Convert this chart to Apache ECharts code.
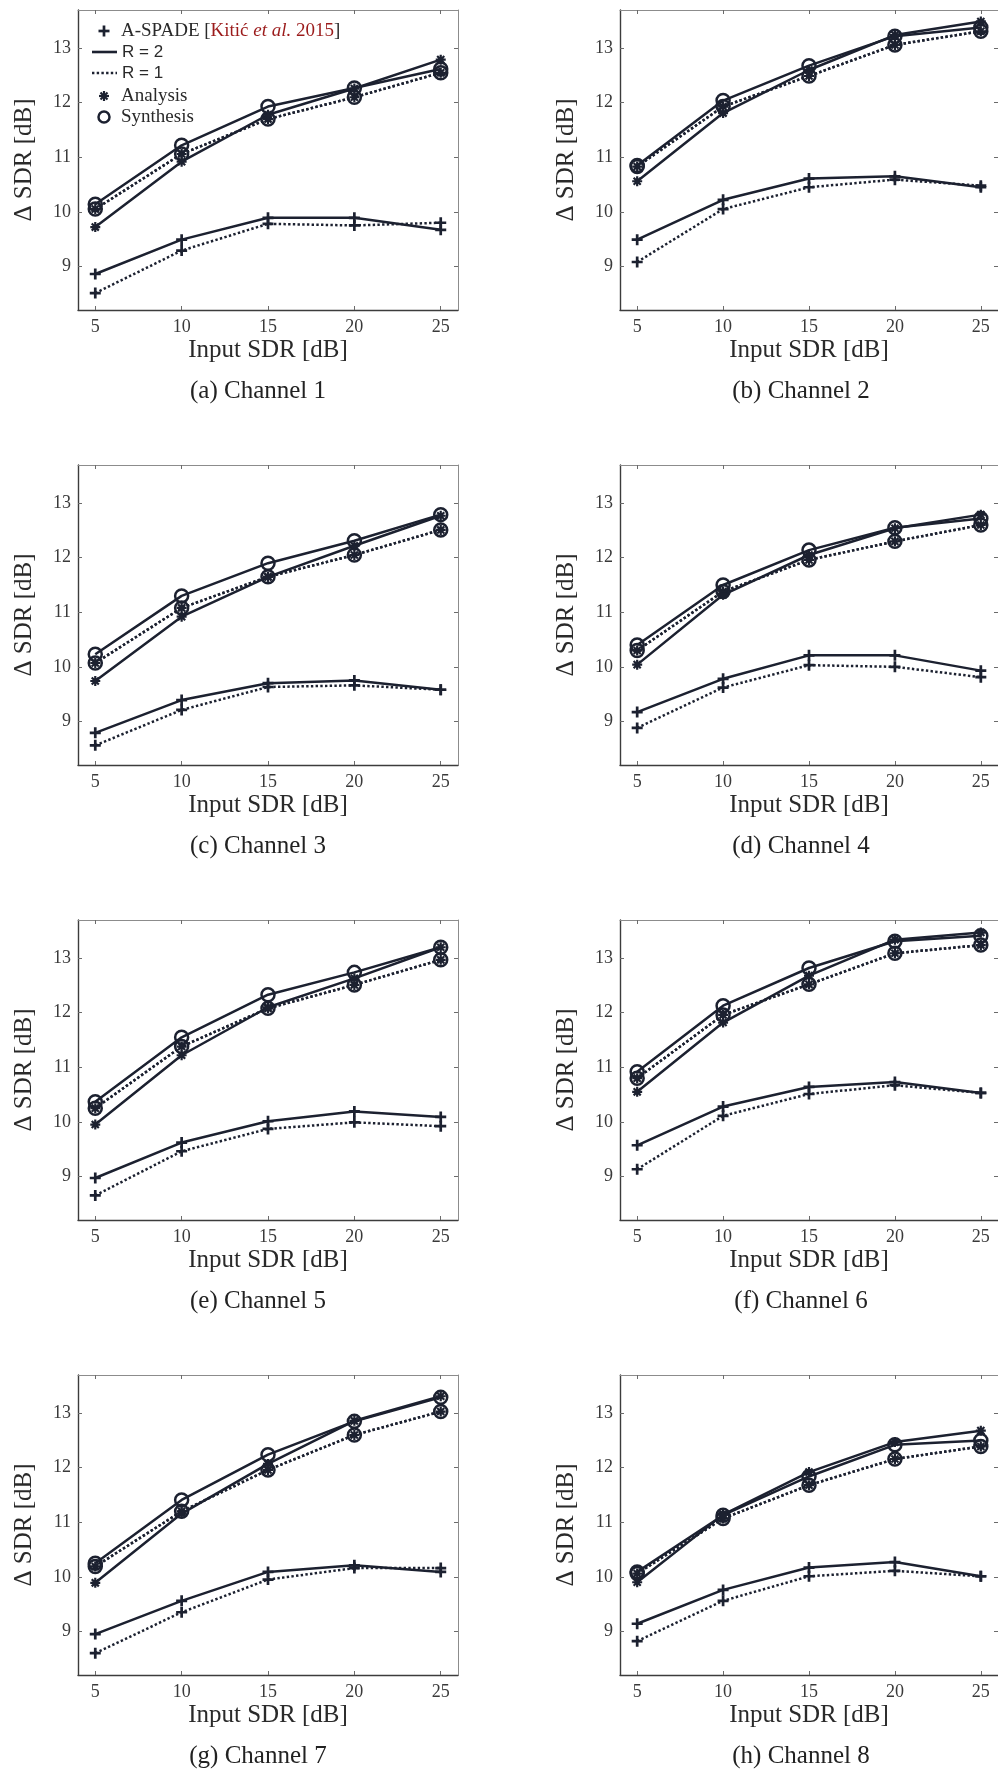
<!DOCTYPE html>
<html>
<head>
<meta charset="utf-8">
<title>ΔSDR vs input SDR, channels 1–8</title>
<script src="https://cdn.jsdelivr.net/npm/echarts@6/dist/echarts.min.js"></script>
<style>
  html, body { margin: 0; padding: 0; background: #ffffff; }
  #main { width: 998px; height: 1769px; }
</style>
</head>
<body>
<div id="main"></div>
<script>
// Input SDR levels (x) and tick values
const inputSdr = [5, 10, 15, 20, 25];
const xTickValues = [5, 10, 15, 20, 25];
const yTickValues = [9, 10, 11, 12, 13];
const captions = ['(a) Channel 1', '(b) Channel 2', '(c) Channel 3', '(d) Channel 4',
                  '(e) Channel 5', '(f) Channel 6', '(g) Channel 7', '(h) Channel 8'];

// ΔSDR [dB] per channel (one row per channel, one value per input SDR)
const aspadeR2 = [
  [8.86, 9.49, 9.89, 9.89, 9.67],
  [9.49, 10.22, 10.61, 10.65, 10.45],
  [8.79, 9.39, 9.70, 9.75, 9.58],
  [9.17, 9.78, 10.21, 10.21, 9.93],
  [8.97, 9.62, 10.01, 10.19, 10.09],
  [9.57, 10.28, 10.64, 10.73, 10.53],
  [8.95, 9.56, 10.09, 10.21, 10.09],
  [9.14, 9.76, 10.17, 10.27, 10.01]
];
const aspadeR1 = [
  [8.51, 9.29, 9.78, 9.75, 9.80],
  [9.08, 10.05, 10.45, 10.59, 10.48],
  [8.56, 9.21, 9.63, 9.66, 9.58],
  [8.88, 9.62, 10.03, 10.00, 9.81],
  [8.65, 9.46, 9.87, 9.99, 9.92],
  [9.13, 10.11, 10.51, 10.67, 10.53],
  [8.60, 9.35, 9.95, 10.16, 10.16],
  [8.82, 9.56, 10.01, 10.11, 10.01]
];
const analysisR2 = [
  [9.72, 10.92, 11.78, 12.26, 12.79],
  [10.56, 11.81, 12.60, 13.24, 13.49],
  [9.74, 10.92, 11.65, 12.22, 12.77],
  [10.04, 11.32, 12.05, 12.54, 12.79],
  [9.95, 11.22, 12.10, 12.63, 13.20],
  [10.55, 11.82, 12.68, 13.34, 13.47],
  [9.89, 11.16, 12.07, 12.86, 13.31],
  [9.90, 11.14, 11.92, 12.47, 12.68]
];
const synthesisR2 = [
  [10.14, 11.22, 11.93, 12.27, 12.62],
  [10.85, 12.04, 12.68, 13.22, 13.38],
  [10.23, 11.30, 11.90, 12.31, 12.79],
  [10.40, 11.50, 12.14, 12.55, 12.72],
  [10.37, 11.55, 12.33, 12.74, 13.20],
  [10.92, 12.13, 12.82, 13.31, 13.41],
  [10.25, 11.41, 12.24, 12.85, 13.29],
  [10.09, 11.13, 11.84, 12.42, 12.50]
];
const analysisR1 = [
  [10.05, 11.06, 11.70, 12.10, 12.55],
  [10.83, 11.93, 12.49, 13.06, 13.31],
  [10.07, 11.08, 11.65, 12.05, 12.51],
  [10.30, 11.38, 11.96, 12.30, 12.60],
  [10.25, 11.38, 12.08, 12.51, 12.97],
  [10.80, 11.96, 12.52, 13.09, 13.24],
  [10.19, 11.20, 11.96, 12.60, 13.03],
  [10.06, 11.07, 11.68, 12.16, 12.39]
];
const synthesisR1 = [
  [10.05, 11.06, 11.70, 12.10, 12.55],
  [10.83, 11.93, 12.49, 13.06, 13.31],
  [10.07, 11.08, 11.65, 12.05, 12.51],
  [10.30, 11.38, 11.96, 12.30, 12.60],
  [10.25, 11.38, 12.08, 12.51, 12.97],
  [10.80, 11.96, 12.52, 13.09, 13.24],
  [10.19, 11.20, 11.96, 12.60, 13.03],
  [10.06, 11.07, 11.68, 12.16, 12.39]
];

const INK = '#1c2130';
const SERIF = '"Liberation Serif", "DejaVu Serif", serif';
const SANS = '"Liberation Sans", Arial, sans-serif';
const PLUS = 'path://M0,5L10,5M5,0L5,10';
const STAR = 'path://M5,0L5,10M0,5L10,5M1.46,1.46L8.54,8.54M1.46,8.54L8.54,1.46';
const DOTS = [2.4, 2.3];

const markerStyles = {
  plus:   { symbol: PLUS, symbolSize: 11, itemStyle: { color: INK, borderColor: INK, borderWidth: 2.7 } },
  star:   { symbol: STAR, symbolSize: 10, itemStyle: { color: INK, borderColor: INK, borderWidth: 2.2 } },
  circle: { symbol: 'circle', symbolSize: 13, itemStyle: { color: 'rgba(0,0,0,0)', borderColor: INK, borderWidth: 2.5 } }
};

const seriesDefs = [
  { name: 'A-SPADE, R = 2',   data: aspadeR2,    marker: 'plus',   dotted: false },
  { name: 'A-SPADE, R = 1',   data: aspadeR1,    marker: 'plus',   dotted: true },
  { name: 'Analysis, R = 1',  data: analysisR1,  marker: 'star',   dotted: true },
  { name: 'Synthesis, R = 1', data: synthesisR1, marker: 'circle', dotted: true },
  { name: 'Analysis, R = 2',  data: analysisR2,  marker: 'star',   dotted: false },
  { name: 'Synthesis, R = 2', data: synthesisR2, marker: 'circle', dotted: false }
];

const grids = [], xAxes = [], yAxes = [], series = [], graphics = [];

for (let i = 0; i < 8; i++) {
  const col = i % 2, row = Math.floor(i / 2);
  const left = col ? 620 : 78;
  const top = 10 + 455 * row;
  grids.push({ left: left, top: top, width: 380, height: 300 });

  const tickStyle = { color: '#6b6b6b', width: 1 };
  // bottom axis with labels, mirrored top axis for the box
  xAxes.push({
    gridIndex: i, type: 'value', min: 4, max: 26, position: 'bottom',
    name: 'Input SDR [dB]', nameLocation: 'middle', nameGap: 28,
    nameTextStyle: { fontFamily: SERIF, fontSize: 25, color: '#2a2a2a' },
    axisLine: { onZero: false, lineStyle: { color: '#3c3c3c', width: 1.4 } },
    axisTick: { inside: true, length: 4, customValues: xTickValues, lineStyle: tickStyle },
    axisLabel: { customValues: xTickValues, margin: 8, fontFamily: SERIF, fontSize: 18, color: '#3a3a3a' },
    splitLine: { show: false }
  });
  xAxes.push({
    gridIndex: i, type: 'value', min: 4, max: 26, position: 'top',
    axisLine: { onZero: false, lineStyle: { color: '#8c8c8c', width: 1 } },
    axisTick: { inside: true, length: 4, customValues: xTickValues, lineStyle: tickStyle },
    axisLabel: { show: false }, splitLine: { show: false }
  });
  yAxes.push({
    gridIndex: i, type: 'value', min: 8.2, max: 13.7, position: 'left',
    name: 'Δ SDR [dB]', nameLocation: 'middle', nameGap: 41, nameRotate: 90,
    nameTextStyle: { fontFamily: SERIF, fontSize: 25, color: '#2a2a2a' },
    axisLine: { onZero: false, lineStyle: { color: '#3c3c3c', width: 1.4 } },
    axisTick: { inside: true, length: 4, customValues: yTickValues, lineStyle: tickStyle },
    axisLabel: { customValues: yTickValues, margin: 7, fontFamily: SERIF, fontSize: 18, color: '#3a3a3a' },
    splitLine: { show: false }
  });
  yAxes.push({
    gridIndex: i, type: 'value', min: 8.2, max: 13.7, position: 'right',
    axisLine: { onZero: false, lineStyle: { color: '#8c8c8c', width: 1 } },
    axisTick: { inside: true, length: 4, customValues: yTickValues, lineStyle: tickStyle },
    axisLabel: { show: false }, splitLine: { show: false }
  });

  seriesDefs.forEach(function (d) {
    const m = markerStyles[d.marker];
    series.push({
      type: 'line', name: d.name,
      xAxisIndex: 2 * i, yAxisIndex: 2 * i,
      data: inputSdr.map(function (x, k) { return [x, d.data[i][k]]; }),
      symbol: m.symbol, symbolSize: m.symbolSize, showAllSymbol: true,
      itemStyle: m.itemStyle,
      lineStyle: { color: INK, width: 2.5, type: d.dotted ? DOTS : 'solid' },
      emphasis: { disabled: true },
      z: 3
    });
  });

  // sub-figure caption
  graphics.push({
    type: 'text', x: col ? 801 : 258, y: 391 + 455 * row,
    style: { text: captions[i], font: '25px ' + SERIF, fill: '#222222', align: 'center', verticalAlign: 'middle' }
  });
}

// key, drawn in the first panel
const keyStroke = function (x1, y1, x2, y2, w, dash) {
  return { type: 'line', shape: { x1: x1, y1: y1, x2: x2, y2: y2 },
           style: { stroke: INK, lineWidth: w, lineDash: dash || null }, z: 10 };
};
graphics.push(
  keyStroke(98.5, 31, 109.5, 31, 2.7),
  keyStroke(104, 25.5, 104, 36.5, 2.7),
  {
    type: 'text', x: 121, y: 31, z: 10,
    style: {
      text: '{k|A-SPADE [}{r|Kitić }{ri|et al.}{r| 2015}{k|]}',
      verticalAlign: 'middle',
      rich: {
        k:  { fontFamily: SERIF, fontSize: 19, fill: '#2a2a2a' },
        r:  { fontFamily: SERIF, fontSize: 19, fill: '#9b1b1b' },
        ri: { fontFamily: SERIF, fontSize: 19, fontStyle: 'italic', fill: '#9b1b1b' }
      }
    }
  },
  keyStroke(92, 52, 117, 52, 2.6),
  { type: 'text', x: 122, y: 52, z: 10, style: { text: 'R = 2', font: '17px ' + SANS, fill: '#2a2a2a', verticalAlign: 'middle' } },
  keyStroke(92, 73, 117, 73, 2.6, DOTS),
  { type: 'text', x: 122, y: 73, z: 10, style: { text: 'R = 1', font: '17px ' + SANS, fill: '#2a2a2a', verticalAlign: 'middle' } },
  keyStroke(104, 91, 104, 101, 2.2),
  keyStroke(99, 96, 109, 96, 2.2),
  keyStroke(100.5, 92.5, 107.5, 99.5, 2.2),
  keyStroke(100.5, 99.5, 107.5, 92.5, 2.2),
  { type: 'text', x: 121, y: 96, z: 10, style: { text: 'Analysis', font: '19px ' + SERIF, fill: '#2a2a2a', verticalAlign: 'middle' } },
  { type: 'circle', shape: { cx: 104, cy: 117, r: 5.5 }, z: 10, style: { stroke: INK, lineWidth: 2.5, fill: 'none' } },
  { type: 'text', x: 121, y: 117, z: 10, style: { text: 'Synthesis', font: '19px ' + SERIF, fill: '#2a2a2a', verticalAlign: 'middle' } }
);

const chart = echarts.init(document.getElementById('main'), null, { renderer: 'canvas', width: 998, height: 1769 });
chart.setOption({
  animation: false,
  backgroundColor: '#ffffff',
  grid: grids,
  xAxis: xAxes,
  yAxis: yAxes,
  series: series,
  graphic: graphics
});
</script>
</body>
</html>
